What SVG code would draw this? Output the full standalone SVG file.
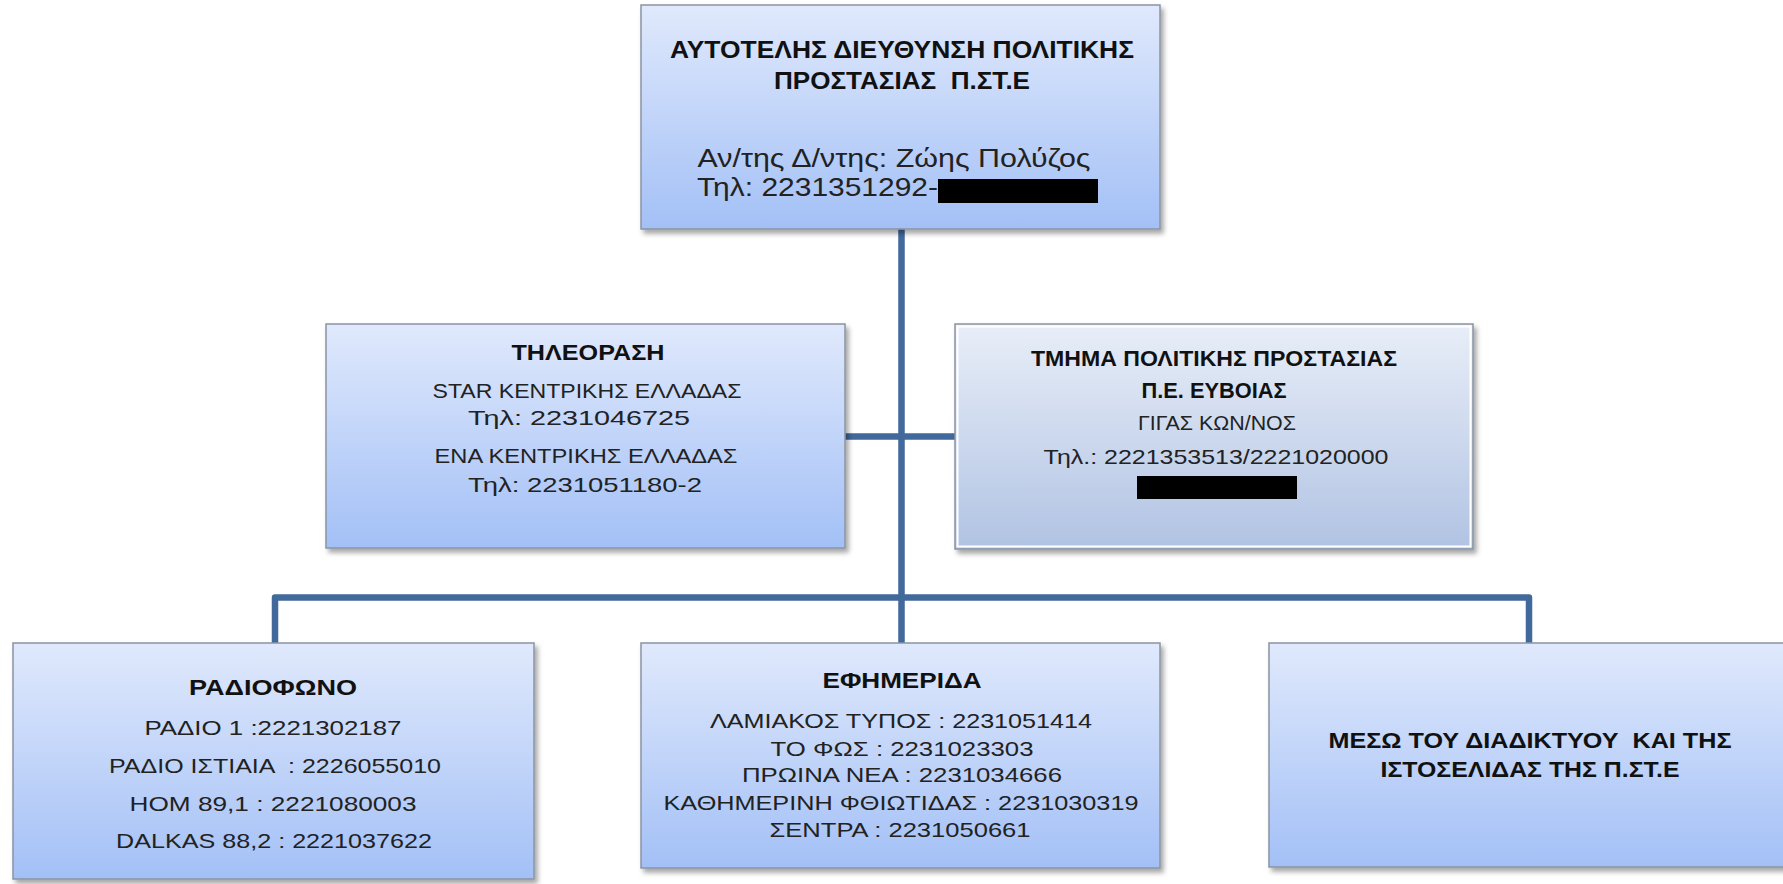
<svg xmlns="http://www.w3.org/2000/svg" width="1783" height="884" viewBox="0 0 1783 884">
<defs>
<linearGradient id="gBlue" x1="0" y1="0" x2="0" y2="1">
<stop offset="0" stop-color="#e0e9fc"/>
<stop offset="1" stop-color="#a3c0f6"/>
</linearGradient>
<linearGradient id="gGrey" x1="0" y1="0" x2="0" y2="1">
<stop offset="0" stop-color="#e8eef8"/>
<stop offset="1" stop-color="#b1c3e3"/>
</linearGradient>
<filter id="shadow" x="-5%" y="-5%" width="112%" height="115%">
<feDropShadow dx="3" dy="4" stdDeviation="2.5" flood-color="#000" flood-opacity="0.35"/>
</filter>
<style>
.box{fill:url(#gBlue);stroke:#8a94a3;stroke-width:1.5;filter:url(#shadow)}
.boxg{fill:url(#gGrey);stroke:#8a94a3;stroke-width:1.5;filter:url(#shadow)}
.inner{fill:none;stroke:#ffffff;stroke-width:2}
.conn{fill:none;stroke:#41699c;stroke-width:6.5;stroke-linejoin:round}
.b{font-family:"Liberation Sans",Arial,sans-serif;font-weight:bold;font-size:22px;fill:#111;text-anchor:middle;white-space:pre}
.r{font-family:"Liberation Sans",Arial,sans-serif;font-size:21px;fill:#222;text-anchor:middle;white-space:pre}
.bt{font-size:23px}
.rt{font-size:25px}
.redact{fill:#000}
</style>
</defs>

<g id="connectors">
<path class="conn" d="M901.5,228 V643"/>
<path class="conn" d="M845,436.5 H955"/>
<path class="conn" d="M275,643 V597.5 H1529 V643"/>
</g>

<g id="node-top">
<rect class="box" x="641" y="5" width="519" height="224"/>
<text class="b bt" x="902" y="58" textLength="464" lengthAdjust="spacingAndGlyphs">ΑΥΤΟΤΕΛΗΣ ΔΙΕΥΘΥΝΣΗ ΠΟΛΙΤΙΚΗΣ</text>
<text class="b bt" x="902" y="89" textLength="256" lengthAdjust="spacingAndGlyphs" xml:space="preserve">ΠΡΟΣΤΑΣΙΑΣ  Π.ΣΤ.Ε</text>
<text class="r rt" x="894" y="167" textLength="393" lengthAdjust="spacingAndGlyphs">Αν/της Δ/ντης: Ζώης Πολύζος</text>
<text class="r rt" x="697" y="196" style="text-anchor:start" textLength="241" lengthAdjust="spacingAndGlyphs">Τηλ: 2231351292-</text>
<rect class="redact" x="938" y="179" width="160" height="24"/>
</g>

<g id="node-tv">
<rect class="box" x="326" y="324" width="519" height="224"/>
<text class="b" x="588" y="360" textLength="153" lengthAdjust="spacingAndGlyphs">ΤΗΛΕΟΡΑΣΗ</text>
<text class="r" x="587" y="398" textLength="309" lengthAdjust="spacingAndGlyphs">STAR ΚΕΝΤΡΙΚΗΣ ΕΛΛΑΔΑΣ</text>
<text class="r" x="579" y="425" textLength="222" lengthAdjust="spacingAndGlyphs">Τηλ: 2231046725</text>
<text class="r" x="586" y="463" textLength="303" lengthAdjust="spacingAndGlyphs">ΕΝΑ ΚΕΝΤΡΙΚΗΣ ΕΛΛΑΔΑΣ</text>
<text class="r" x="585" y="492" textLength="234" lengthAdjust="spacingAndGlyphs">Τηλ: 2231051180-2</text>
</g>

<g id="node-evia">
<rect class="boxg" x="955" y="324" width="518" height="225"/>
<rect class="inner" x="957.5" y="326.5" width="513" height="220"/>
<text class="b" x="1214" y="366" textLength="366" lengthAdjust="spacingAndGlyphs">ΤΜΗΜΑ ΠΟΛΙΤΙΚΗΣ ΠΡΟΣΤΑΣΙΑΣ</text>
<text class="b" x="1214" y="398" textLength="145" lengthAdjust="spacingAndGlyphs">Π.Ε. ΕΥΒΟΙΑΣ</text>
<text class="r" x="1217" y="430" textLength="158" lengthAdjust="spacingAndGlyphs">ΓΙΓΑΣ ΚΩΝ/ΝΟΣ</text>
<text class="r" x="1216" y="464" textLength="345" lengthAdjust="spacingAndGlyphs">Τηλ.: 2221353513/2221020000</text>
<rect class="redact" x="1137" y="476" width="160" height="23"/>
</g>

<g id="node-radio">
<rect class="box" x="13" y="643" width="521" height="236"/>
<text class="b" x="273" y="695" textLength="168" lengthAdjust="spacingAndGlyphs">ΡΑΔΙΟΦΩΝΟ</text>
<text class="r" x="273" y="735" textLength="257" lengthAdjust="spacingAndGlyphs">ΡΑΔΙΟ 1 :2221302187</text>
<text class="r" x="275" y="773" textLength="332" lengthAdjust="spacingAndGlyphs" xml:space="preserve">ΡΑΔΙΟ ΙΣΤΙΑΙΑ  : 2226055010</text>
<text class="r" x="273" y="811" textLength="287" lengthAdjust="spacingAndGlyphs">HOM 89,1 : 2221080003</text>
<text class="r" x="274" y="848" textLength="316" lengthAdjust="spacingAndGlyphs">DALKAS 88,2 : 2221037622</text>
</g>

<g id="node-newspaper">
<rect class="box" x="641" y="643" width="519" height="225"/>
<text class="b" x="902" y="688" textLength="159" lengthAdjust="spacingAndGlyphs">ΕΦΗΜΕΡΙΔΑ</text>
<text class="r" x="901" y="728" textLength="382" lengthAdjust="spacingAndGlyphs">ΛΑΜΙΑΚΟΣ ΤΥΠΟΣ : 2231051414</text>
<text class="r" x="902" y="756" textLength="263" lengthAdjust="spacingAndGlyphs">ΤΟ ΦΩΣ : 2231023303</text>
<text class="r" x="902" y="782" textLength="320" lengthAdjust="spacingAndGlyphs">ΠΡΩΙΝΑ ΝΕΑ : 2231034666</text>
<text class="r" x="901" y="810" textLength="475" lengthAdjust="spacingAndGlyphs">ΚΑΘΗΜΕΡΙΝΗ ΦΘΙΩΤΙΔΑΣ : 2231030319</text>
<text class="r" x="900" y="837" textLength="261" lengthAdjust="spacingAndGlyphs">ΣΕΝΤΡΑ : 2231050661</text>
</g>

<g id="node-internet">
<rect class="box" x="1269" y="643" width="519" height="224"/>
<text class="b" x="1530" y="748" textLength="403" lengthAdjust="spacingAndGlyphs" xml:space="preserve">ΜΕΣΩ ΤΟΥ ΔΙΑΔΙΚΤΥΟΥ  ΚΑΙ ΤΗΣ</text>
<text class="b" x="1530" y="777" textLength="299" lengthAdjust="spacingAndGlyphs">ΙΣΤΟΣΕΛΙΔΑΣ ΤΗΣ Π.ΣΤ.Ε</text>
</g>
</svg>
